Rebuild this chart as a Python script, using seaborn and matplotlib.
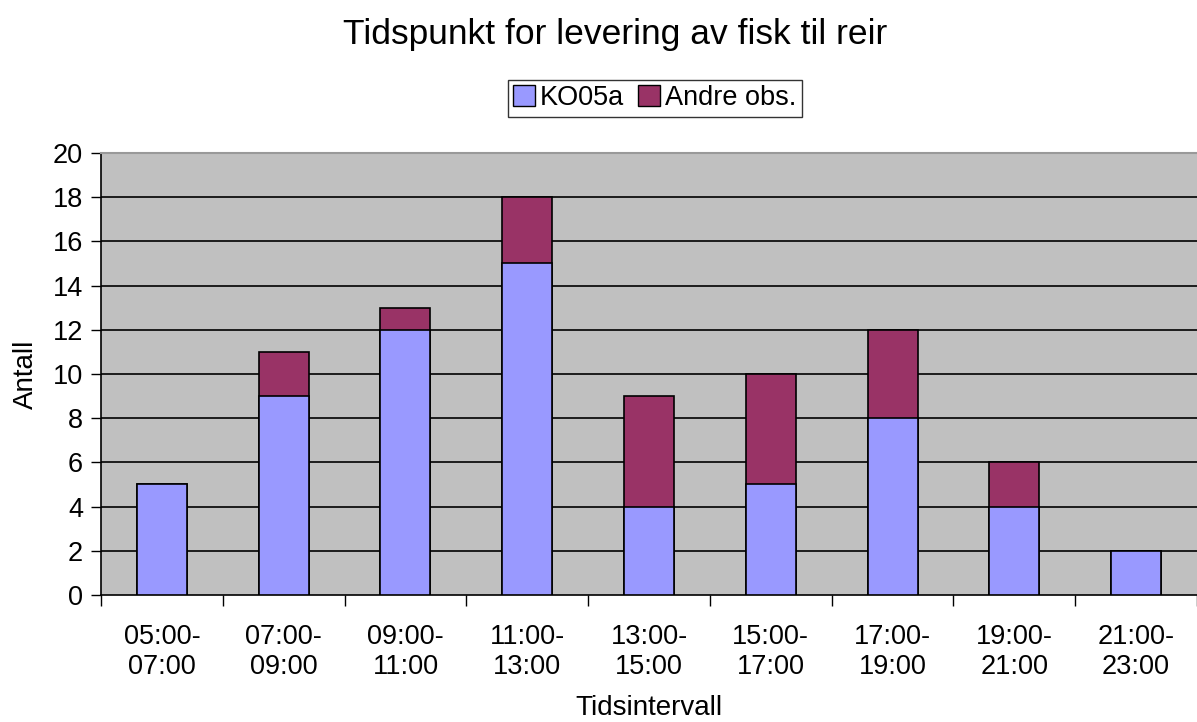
import matplotlib
matplotlib.use("Agg")
import matplotlib.pyplot as plt
import seaborn as sns
import numpy as np
from matplotlib.patches import Patch

intervals = ["05:00-\n07:00", "07:00-\n09:00", "09:00-\n11:00", "11:00-\n13:00",
             "13:00-\n15:00", "15:00-\n17:00", "17:00-\n19:00", "19:00-\n21:00",
             "21:00-\n23:00"]
ko05a = [5, 9, 12, 15, 4, 5, 8, 4, 2]
andre_obs = [0, 2, 1, 3, 5, 5, 4, 2, 0]

blue = "#9999FF"
maroon = "#993366"

sns.set_theme(style="white")
plt.rcParams["font.family"] = ["Liberation Sans", "DejaVu Sans"]
plt.rcParams["text.color"] = "black"
plt.rcParams["axes.labelcolor"] = "black"
plt.rcParams["xtick.color"] = "black"
plt.rcParams["ytick.color"] = "black"

fig = plt.figure(figsize=(11.97, 7.22), dpi=100)
ax = fig.add_axes([0.0844, 0.1759, 0.9156, 0.6122])
ax.set_facecolor("#C0C0C0")

# stacked bars: full height in maroon, KO05a part drawn over it in blue
totals = np.array(ko05a) + np.array(andre_obs)
sns.barplot(x=intervals, y=totals, color=maroon, saturation=1, width=0.41,
            edgecolor="black", linewidth=1.2, ax=ax, zorder=3)
sns.barplot(x=intervals, y=ko05a, color=blue, saturation=1, width=0.41,
            edgecolor="black", linewidth=1.2, ax=ax, zorder=4)

ax.set_xlim(-0.5, len(intervals) - 0.5)
ax.set_ylim(0, 20)
ax.set_yticks(range(0, 21, 2))
ax.grid(False)
for v in range(2, 21, 2):
    ax.axhline(v, color="black", linewidth=1.2, zorder=1)

ax.set_xticks(np.arange(-0.5, len(intervals), 1.0), minor=True)
ax.tick_params(axis="x", which="major", length=0, pad=21, labelsize=19.5)
ax.tick_params(axis="x", which="minor", length=8, width=1, color="black", direction="out", bottom=True)
ax.tick_params(axis="y", length=7, width=1, color="black", direction="out", left=True, labelsize=19.5, pad=6)
for lbl in ax.get_xticklabels():
    lbl.set_linespacing(1.2)

for s in ["left", "bottom"]:
    ax.spines[s].set_color("black")
    ax.spines[s].set_linewidth(1.2)
ax.spines["top"].set_color("#999999")
ax.spines["top"].set_linewidth(1.5)
ax.spines["right"].set_visible(False)

ax.set_xlabel("Tidsintervall", fontsize=20, labelpad=11)
ax.set_ylabel("Antall", fontsize=20, labelpad=10)

fig.suptitle("Tidspunkt for levering av fisk til reir", fontsize=25.5, y=0.975, x=0.514)

handles = [Patch(facecolor=blue, edgecolor="black", label="KO05a"),
           Patch(facecolor=maroon, edgecolor="black", label="Andre obs.")]
fig.legend(handles=handles, loc="center", bbox_to_anchor=(0.547, 0.864), ncol=2,
           fontsize=19.5, frameon=True, fancybox=False, edgecolor="black",
           handlelength=0.8, handleheight=0.8, handletextpad=0.2, columnspacing=0.5,
           borderpad=0.2, borderaxespad=0)

fig.savefig("out.png", dpi=100)
